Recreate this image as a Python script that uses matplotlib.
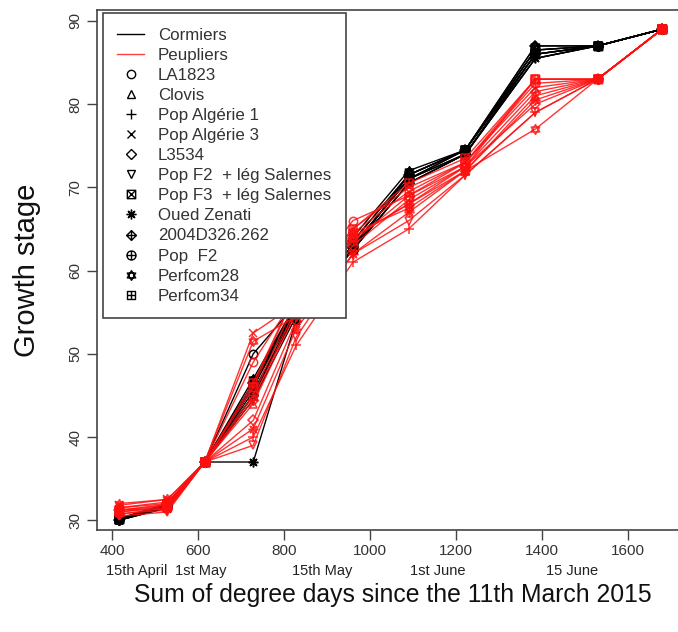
import numpy as np
import matplotlib.pyplot as plt
from matplotlib.path import Path
from matplotlib.lines import Line2D

plt.rcParams['font.family'] = ['Liberation Sans', 'DejaVu Sans']

# degree days of each observation
dd = [415, 528, 615, 728, 828, 960, 1090, 1222, 1385, 1530, 1680]

genotypes = ['LA1823', 'Clovis', 'Pop Algérie 1', 'Pop Algérie 3', 'L3534',
             'Pop F2  + lég Salernes', 'Pop F3  + lég Salernes', 'Oued Zenati',
             '2004D326.262', 'Pop  F2', 'Perfcom28', 'Perfcom34']

# Cormiers site (black)
corm_LA1823 = [30.2, 31.8, 37, 50.0, 56.0, 63.5, 71.5, 74.5, 86.5, 87, 89]
corm_Clovis = [30.0, 31.5, 37, 45.5, 55.0, 63.0, 71.0, 74.0, 86.0, 87, 89]
corm_Alg1 = [30.0, 31.6, 37, 44.5, 54.5, 62.5, 70.5, 74.0, 85.5, 87, 89]
corm_Alg3 = [30.1, 31.8, 37, 46.0, 55.5, 63.0, 71.0, 74.5, 86.0, 87, 89]
corm_L3534 = [30.0, 32.0, 37, 46.5, 56.0, 63.5, 71.5, 74.5, 87.0, 87, 89]
corm_F2leg = [30.0, 31.7, 37, 45.0, 55.0, 62.5, 70.5, 74.0, 85.5, 87, 89]
corm_F3leg = [30.2, 31.9, 37, 46.0, 56.0, 63.0, 71.0, 74.5, 86.5, 87, 89]
corm_Oued = [30.0, 31.5, 37, 37.0, 54.0, 62.5, 70.5, 74.0, 85.5, 87, 89]
corm_2004 = [30.0, 31.8, 37, 45.0, 55.5, 63.0, 71.0, 74.0, 86.0, 87, 89]
corm_F2 = [30.1, 31.7, 37, 46.5, 55.5, 62.5, 71.5, 74.5, 86.5, 87, 89]
corm_P28 = [30.0, 31.9, 37, 47.0, 56.0, 64.0, 72.0, 74.5, 87.0, 87, 89]
corm_P34 = [30.2, 32.0, 37, 46.0, 56.0, 62.5, 71.5, 74.5, 86.0, 87, 89]

# Peupliers site (red)
peup_LA1823 = [31.0, 31.5, 37, 49.0, 57.0, 66.0, 69.0, 72.5, 83.0, 83, 89]
peup_Clovis = [31.5, 32.0, 37, 44.0, 55.0, 64.0, 68.0, 72.0, 81.0, 83, 89]
peup_Alg1 = [30.8, 31.2, 37, 40.0, 51.0, 61.0, 65.0, 71.5, 79.0, 83, 89]
peup_Alg3 = [31.8, 32.5, 37, 52.5, 56.0, 65.0, 70.0, 73.0, 82.0, 83, 89]
peup_L3534 = [31.2, 31.8, 37, 42.0, 54.0, 63.0, 68.5, 72.5, 80.0, 83, 89]
peup_F2leg = [30.5, 31.0, 37, 39.0, 52.0, 62.0, 66.0, 71.5, 79.0, 83, 89]
peup_F3leg = [31.0, 31.7, 37, 46.0, 57.5, 64.5, 69.5, 73.0, 83.0, 83, 89]
peup_Oued = [31.3, 31.3, 37, 41.0, 53.0, 62.0, 67.0, 72.0, 80.5, 83, 89]
peup_2004 = [30.7, 31.5, 37, 44.5, 55.5, 64.0, 68.0, 72.5, 81.5, 83, 89]
peup_F2 = [31.5, 32.2, 37, 45.0, 56.5, 63.5, 69.0, 73.0, 82.5, 83, 89]
peup_P28 = [32.0, 32.5, 37, 51.5, 54.5, 64.5, 67.5, 72.0, 77.0, 83, 89]
peup_P34 = [31.2, 31.9, 37, 46.5, 57.5, 65.0, 70.5, 73.5, 83.0, 83, 89]

cormiers = [corm_LA1823, corm_Clovis, corm_Alg1, corm_Alg3, corm_L3534, corm_F2leg,
            corm_F3leg, corm_Oued, corm_2004, corm_F2, corm_P28, corm_P34]
peupliers = [peup_LA1823, peup_Clovis, peup_Alg1, peup_Alg3, peup_L3534, peup_F2leg,
             peup_F3leg, peup_Oued, peup_2004, peup_F2, peup_P28, peup_P34]

date_labels = ['15th April', '1st May', '15th May', '1st June', '15 June']
date_pos = [456, 605, 888, 1157, 1470]


# R style pch symbols 7..12 built from simple paths
def poly(pts, closed=True):
    pts = list(pts)
    codes = [Path.MOVETO] + [Path.LINETO] * (len(pts) - 1)
    if closed:
        pts.append(pts[0])
        codes.append(Path.CLOSEPOLY)
    return Path(pts, codes)

square = poly([(-1, -1), (1, -1), (1, 1), (-1, 1)])
diamond = poly([(0, -1.3), (1.3, 0), (0, 1.3), (-1.3, 0)])
xcross = Path.make_compound_path(poly([(-1, -1), (1, 1)], False), poly([(-1, 1), (1, -1)], False))
plus = Path.make_compound_path(poly([(-1, 0), (1, 0)], False), poly([(0, -1), (0, 1)], False))
plus13 = Path.make_compound_path(poly([(-1.3, 0), (1.3, 0)], False), poly([(0, -1.3), (0, 1.3)], False))
tri_up = poly([(0, 1), (0.866, -0.5), (-0.866, -0.5)])
tri_dn = poly([(0, -1), (0.866, 0.5), (-0.866, 0.5)])

pch7 = Path.make_compound_path(square, xcross)
pch9 = Path.make_compound_path(diamond, plus13)
pch10 = Path.make_compound_path(Path.circle((0, 0), 1), plus)
pch11 = Path.make_compound_path(tri_up, tri_dn)
pch12 = Path.make_compound_path(square, plus)

markers = ['o', '^', '+', 'x', 'D', 'v', pch7, (8, 2, 0), pch9, pch10, pch11, pch12]
msizes = [6, 6, 7, 6, 5.5, 6, 6, 7, 7, 6.5, 7, 6]

fig = plt.figure(figsize=(6.78, 6.32), dpi=100)
ax = fig.add_axes([0.143, 0.161, 0.872, 0.823])

for vals, m, ms in zip(cormiers, markers, msizes):
    ax.plot(dd, vals, color='black', lw=1, marker=m, ms=ms, mfc='none', mew=1.1)
for vals, m, ms in zip(peupliers, markers, msizes):
    ax.plot(dd, vals, color='#ff1010', lw=1, marker=m, ms=ms, mfc='none', mew=1.1, alpha=0.85)

ax.set_xlim(364, 1741)
ax.set_ylim(28.8, 91.3)
ax.set_xticks([400, 600, 800, 1000, 1200, 1400, 1600])
ax.set_yticks([30, 40, 50, 60, 70, 80, 90])
ax.tick_params(axis='both', direction='out', length=7, width=1, color='#444',
               labelsize=11, labelcolor='#333')
ax.tick_params(axis='x', pad=3)
for lab in ax.get_yticklabels():
    lab.set_rotation(90)
    lab.set_va('center')
for s in ax.spines.values():
    s.set_color('#444')
    s.set_linewidth(1.2)

for lab, pos in zip(date_labels, date_pos):
    ax.annotate(lab, xy=(pos, 0), xycoords=('data', 'axes fraction'),
                xytext=(0, -24), textcoords='offset points',
                ha='center', va='top', fontsize=10.5, color='#222')

ax.set_xlabel('Sum of degree days since the 11th March 2015', fontsize=17.8, labelpad=18, color='#111')
ax.set_ylabel('Growth stage', fontsize=21, labelpad=20, color='#111')

handles = [Line2D([], [], color='black', lw=1), Line2D([], [], color='#ff4040', lw=1)]
for m, ms in zip(markers, msizes):
    handles.append(Line2D([], [], ls='none', marker=m, ms=ms, mfc='none', mec='black', mew=1))
leg = ax.legend(handles, ['Cormiers', 'Peupliers'] + genotypes, loc='upper left',
                bbox_to_anchor=(0.01, 0.994), borderaxespad=0, fontsize=12.2,
                labelspacing=0.3, handlelength=1.6, handletextpad=0.8, borderpad=0.85,
                fancybox=False, framealpha=1, edgecolor='#444')
leg.get_frame().set_linewidth(1.2)
for t in leg.get_texts():
    t.set_color('#333')

fig.savefig('out.png', dpi=100)
